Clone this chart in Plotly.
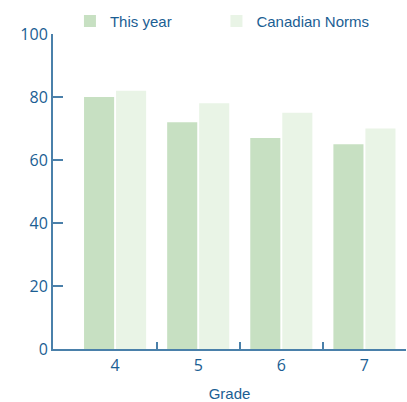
import plotly.graph_objects as go

grades = ["4", "5", "6", "7"]
this_year = [80, 72, 67, 65]
canadian_norms = [82, 78, 75, 70]
y_ticks = [0, 20, 40, 60, 80, 100]

axis_col = "#4a80aa"
text_col = "#1b5e93"

idx = list(range(len(grades)))
boundaries = [i + 0.5 for i in idx]

fig = go.Figure()
fig.add_trace(go.Bar(name="This year", x=idx, y=this_year, marker_color="#c7e0c2",
                     marker_line_width=0, legend="legend"))
fig.add_trace(go.Bar(name="Canadian Norms", x=idx, y=canadian_norms, marker_color="#e9f4e6",
                     marker_line_width=0, legend="legend2"))
# invisible trace to activate label axis
fig.add_trace(go.Scatter(x=idx, y=[None]*len(idx), xaxis="x2", showlegend=False,
                         hoverinfo="skip"))

leg_common = dict(orientation="h", xanchor="left", y=1.093, yanchor="top",
                  font=dict(size=15, color=text_col),
                  bgcolor="rgba(0,0,0,0)", itemclick=False)

xr = [-0.747, len(grades) - 0.5]
fig.update_layout(
    width=407, height=402,
    margin=dict(l=53, r=1, t=34, b=53, autoexpand=False),
    plot_bgcolor="white", paper_bgcolor="white",
    barmode="group", bargap=0.23, bargroupgap=0.06,
    font=dict(family="Liberation Sans, Arial, sans-serif", color=text_col),
    legend=dict(x=0.048, **leg_common),
    legend2=dict(x=0.463, **leg_common),
    xaxis=dict(range=xr, tickvals=boundaries, ticktext=[""]*len(boundaries),
               ticks="inside", ticklen=7, tickwidth=1.5, tickcolor=axis_col,
               showline=True, linecolor=axis_col, linewidth=2, showgrid=False,
               zeroline=False, automargin=False),
    xaxis2=dict(range=xr, overlaying="x", side="bottom", tickvals=idx, ticktext=grades,
                ticks="", showline=False, showgrid=False, zeroline=False, automargin=False,
                ticklabelstandoff=5,
                tickfont=dict(family="Open Sans, sans-serif", size=16, color=text_col),
                title=dict(text="Grade", font=dict(size=15, color=text_col), standoff=18)),
    yaxis=dict(range=[0, 100], tickvals=y_ticks, ticks="inside", ticklen=10,
               tickwidth=2, tickcolor=axis_col, showline=True, linecolor=axis_col,
               linewidth=2, showgrid=False, zeroline=False, automargin=False,
               tickfont=dict(family="Open Sans, sans-serif", size=16, color=text_col)),
)
fig.write_html("out.html")
